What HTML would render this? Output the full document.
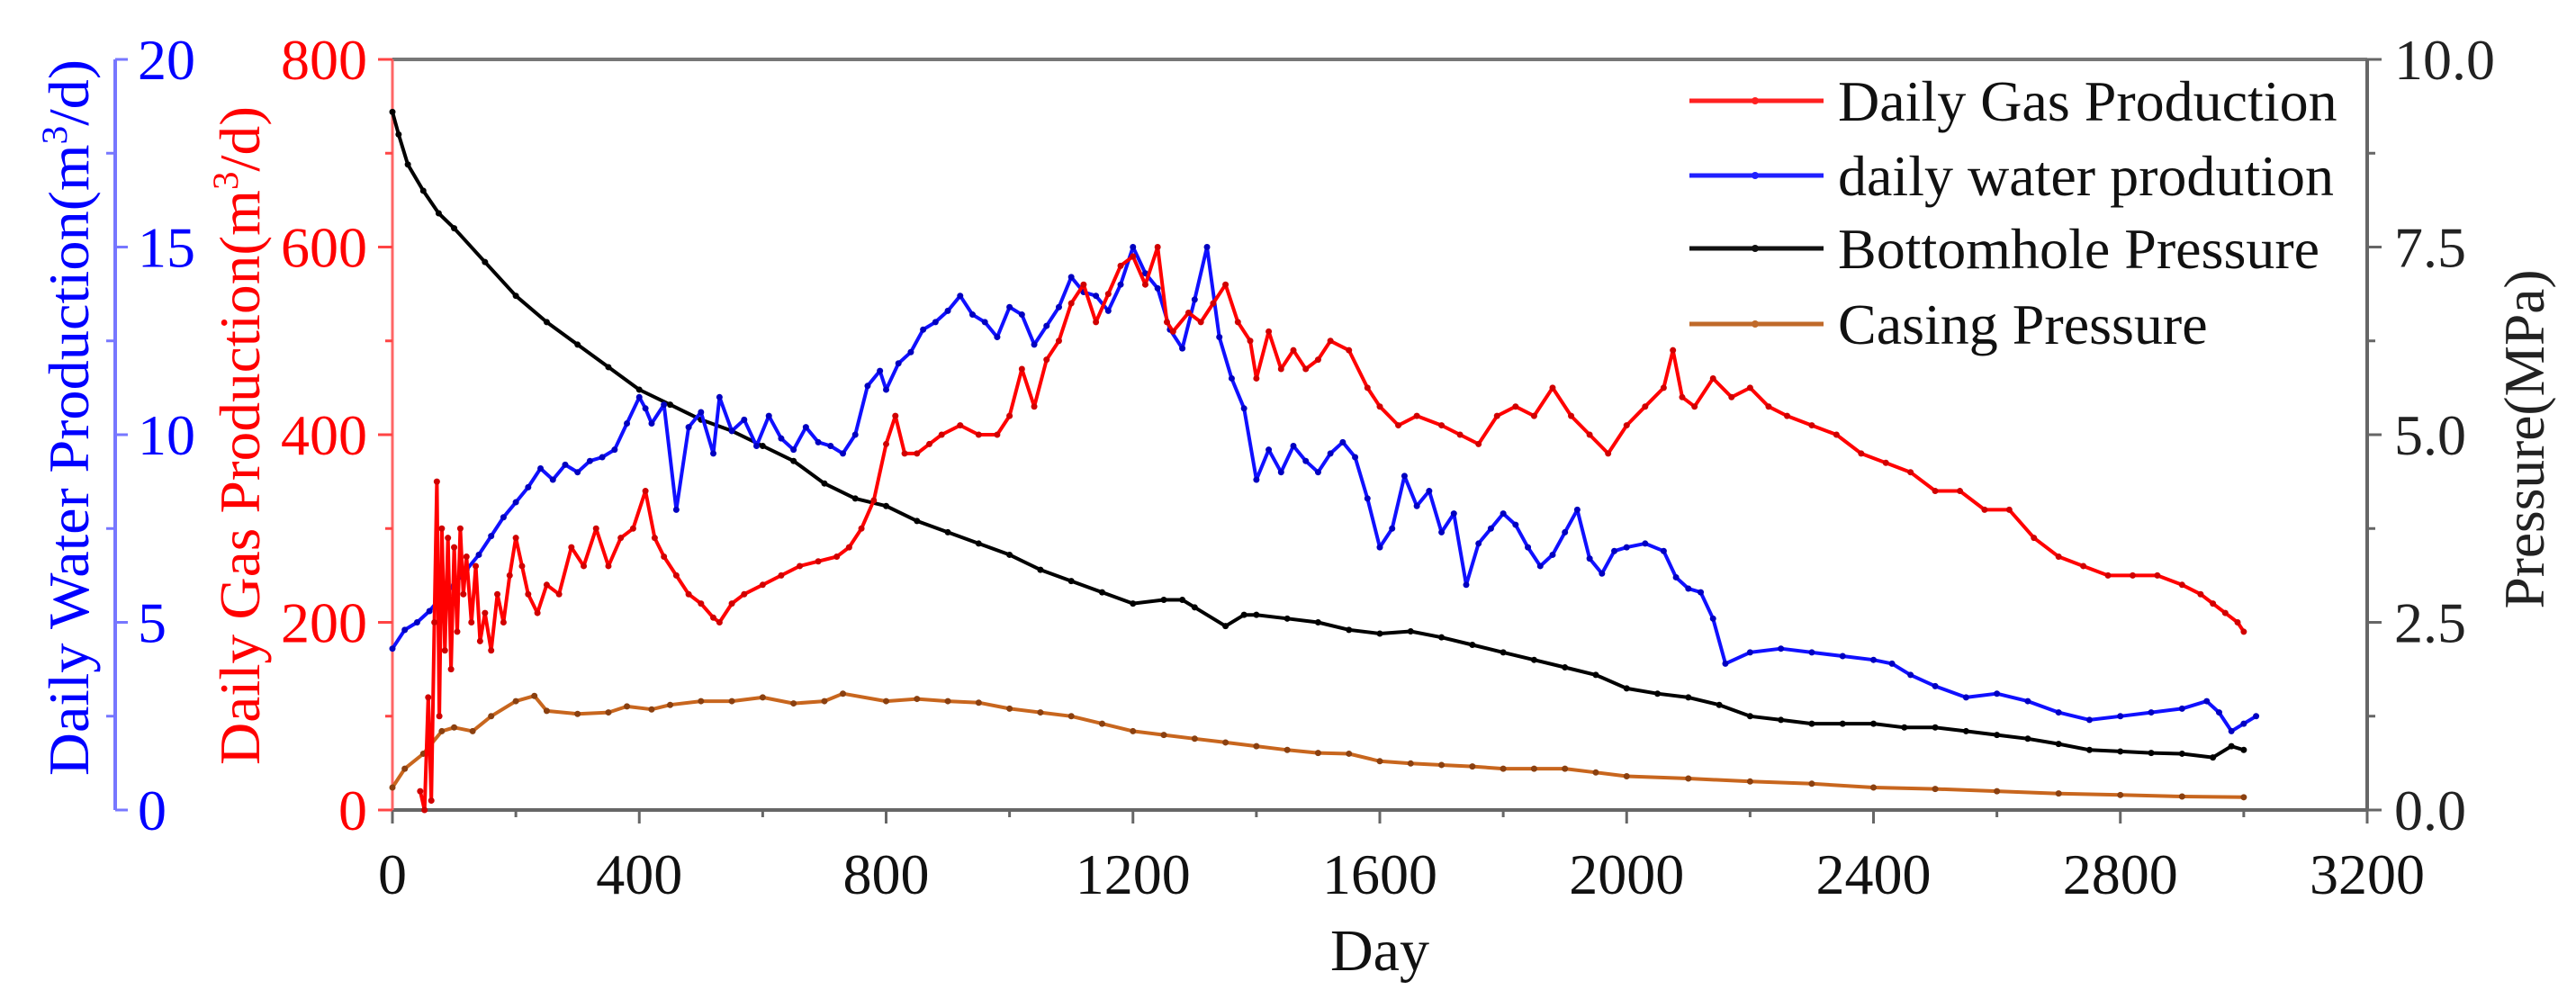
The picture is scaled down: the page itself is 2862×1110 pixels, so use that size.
<!DOCTYPE html>
<html><head><meta charset="utf-8"><style>
html,body{margin:0;padding:0;background:#fff;}
svg{display:block;font-family:"Liberation Serif","DejaVu Serif",serif;}
</style></head><body>
<svg id="chart" width="2862" height="1110" viewBox="0 0 2862 1110" xmlns="http://www.w3.org/2000/svg">
<g id="axes"></g>
<g id="series"></g>
<g id="legend"></g>
</svg>
<script>
const xTicks = [0,400,800,1200,1600,2000,2400,2800,3200];
const gasTicks = [0,200,400,600,800];
const waterTicks = [0,5,10,15,20];
const presTicks = ["0.0","2.5","5.0","7.5","10.0"];

const gasDays = [45,52,58,63,68,72,76,80,85,90,95,100,105,110,115,120,128,135,142,150,160,170,180,190,200,210,220,235,250,270,290,310,330,350,370,390,410,425,440,460,480,500,520,530,550,570,600,630,660,690,720,740,760,780,800,815,830,850,870,890,920,950,980,1000,1020,1040,1060,1080,1100,1120,1140,1160,1180,1200,1220,1240,1255,1265,1290,1310,1330,1350,1370,1390,1400,1420,1440,1460,1480,1500,1520,1550,1580,1600,1630,1660,1700,1730,1760,1790,1820,1850,1880,1910,1940,1970,2000,2030,2060,2075,2090,2110,2140,2170,2200,2230,2260,2300,2340,2380,2420,2460,2500,2540,2580,2620,2660,2700,2740,2780,2820,2860,2900,2930,2950,2970,2990,3000];
const gasVals = [20,0,120,10,200,350,100,300,170,290,150,280,190,300,230,270,200,260,180,210,170,230,200,250,290,260,230,210,240,230,280,260,300,260,290,300,340,290,270,250,230,220,205,200,220,230,240,250,260,265,270,280,300,330,390,420,380,380,390,400,410,400,400,420,470,430,480,500,540,560,520,550,580,590,560,600,520,510,530,520,540,560,520,500,460,510,470,490,470,480,500,490,450,430,410,420,410,400,390,420,430,420,450,420,400,380,410,430,450,490,440,430,460,440,450,430,420,410,400,380,370,360,340,340,320,320,290,270,260,250,250,250,240,230,220,210,200,190];

const waterDays = [0,20,40,60,80,100,120,140,160,180,200,220,240,260,280,300,320,340,360,380,400,410,420,440,460,480,500,520,530,550,570,590,610,630,650,670,690,710,730,750,770,790,800,820,840,860,880,900,920,940,960,980,1000,1020,1040,1060,1080,1100,1120,1140,1160,1180,1200,1220,1240,1260,1280,1300,1320,1340,1360,1380,1400,1420,1440,1460,1480,1500,1520,1540,1560,1580,1600,1620,1640,1660,1680,1700,1720,1740,1760,1780,1800,1820,1840,1860,1880,1900,1920,1940,1960,1980,2000,2030,2060,2080,2100,2120,2140,2160,2200,2250,2300,2350,2400,2430,2460,2500,2550,2600,2650,2700,2750,2800,2850,2900,2940,2960,2980,3000,3020];
const waterVals = [4.3,4.8,5.0,5.3,5.7,6.0,6.4,6.8,7.3,7.8,8.2,8.6,9.1,8.8,9.2,9.0,9.3,9.4,9.6,10.3,11.0,10.7,10.3,10.8,8.0,10.2,10.6,9.5,11.0,10.1,10.4,9.7,10.5,9.9,9.6,10.2,9.8,9.7,9.5,10.0,11.3,11.7,11.2,11.9,12.2,12.8,13.0,13.3,13.7,13.2,13.0,12.6,13.4,13.2,12.4,12.9,13.4,14.2,13.8,13.7,13.3,14.0,15.0,14.3,13.9,12.8,12.3,13.6,15.0,12.6,11.5,10.7,8.8,9.6,9.0,9.7,9.3,9.0,9.5,9.8,9.4,8.3,7.0,7.5,8.9,8.1,8.5,7.4,7.9,6.0,7.1,7.5,7.9,7.6,7.0,6.5,6.8,7.4,8.0,6.7,6.3,6.9,7.0,7.1,6.9,6.2,5.9,5.8,5.1,3.9,4.2,4.3,4.2,4.1,4.0,3.9,3.6,3.3,3.0,3.1,2.9,2.6,2.4,2.5,2.6,2.7,2.9,2.6,2.1,2.3,2.5,2.6];

const bhpDays = [0,10,25,50,75,100,150,200,250,300,350,400,450,500,550,600,650,700,750,800,850,900,950,1000,1050,1100,1150,1200,1250,1280,1300,1350,1380,1400,1450,1500,1550,1600,1650,1700,1750,1800,1850,1900,1950,2000,2050,2100,2150,2200,2250,2300,2350,2400,2450,2500,2550,2600,2650,2700,2750,2800,2850,2900,2950,2980,3000];
const bhpVals = [9.3,9.0,8.6,8.25,7.95,7.75,7.3,6.85,6.5,6.2,5.9,5.6,5.4,5.2,5.05,4.85,4.65,4.35,4.15,4.05,3.85,3.7,3.55,3.4,3.2,3.05,2.9,2.75,2.8,2.8,2.7,2.45,2.6,2.6,2.55,2.5,2.4,2.35,2.38,2.3,2.2,2.1,2.0,1.9,1.8,1.62,1.55,1.5,1.4,1.25,1.2,1.15,1.15,1.15,1.1,1.1,1.05,1.0,0.95,0.88,0.8,0.78,0.76,0.75,0.7,0.85,0.8];

const casDays = [0,20,50,80,100,130,160,200,230,250,300,350,380,420,450,500,550,600,650,700,730,800,850,900,950,1000,1050,1100,1150,1200,1250,1300,1350,1400,1450,1500,1550,1600,1650,1700,1750,1800,1850,1900,1950,2000,2100,2200,2300,2400,2500,2600,2700,2800,2900,3000];
const casVals = [0.3,0.55,0.75,1.05,1.1,1.05,1.25,1.45,1.52,1.32,1.28,1.3,1.38,1.34,1.4,1.45,1.45,1.5,1.42,1.45,1.55,1.45,1.48,1.45,1.43,1.35,1.3,1.25,1.15,1.05,1.0,0.95,0.9,0.85,0.8,0.76,0.75,0.65,0.62,0.6,0.58,0.55,0.55,0.55,0.5,0.45,0.42,0.38,0.35,0.3,0.28,0.25,0.22,0.2,0.18,0.17];

const L=436,R=2630,T=66,B=900;
const xs = d => L + d/3200*(R-L);
const yGas = v => B - v/800*(B-T);
const yWat = v => B - v/20*(B-T);
const yPres = v => B - v/10*(B-T);
const NS="http://www.w3.org/2000/svg";
function mk(tag,parent){const e=document.createElementNS(NS,tag);parent.appendChild(e);return e;}
const axes=document.getElementById('axes'), ser=document.getElementById('series'), leg=document.getElementById('legend');
function line(p,x1,y1,x2,y2,c,w){const e=mk('line',p);e.setAttribute('x1',x1);e.setAttribute('y1',y1);e.setAttribute('x2',x2);e.setAttribute('y2',y2);e.setAttribute('stroke',c);e.setAttribute('stroke-width',w);return e;}
function text(p,x,y,s,c,fs,anchor){const e=mk('text',p);e.setAttribute('x',x);e.setAttribute('y',y);e.setAttribute('fill',c);e.setAttribute('font-size',fs);e.setAttribute('text-anchor',anchor||'start');e.textContent=s;return e;}

// frame
let e;
e=line(axes,L,T,R,T,'#777',4);


e=line(axes,L,B,R,B,'#666',4);


e=line(axes,R,T,R,B,'#666',4);


e=line(axes,L,T,L,B,'#f66',3);


e=line(axes,128,T,128,B,'#77f',4);



// x ticks
xTicks.forEach((d,i)=>{
  const x=xs(d);
  line(axes,x,B,x,B+15,'#666',3);
  if(i<xTicks.length-1) line(axes,xs(d+200),B,xs(d+200),B+8,'#666',3);
  const t=text(axes,x,993,String(d),'#111',64,'middle');
  
  
});
e=text(axes,1533,1078,'Day','#111',66,'middle');



// gas axis
gasTicks.forEach((v,i)=>{
  const y=yGas(v);
  line(axes,L-16,y,L,y,'#f44',3);
  if(i<gasTicks.length-1) line(axes,L-8,yGas(v+100),L,yGas(v+100),'#f44',3);
  const t=text(axes,408,y+22,String(v),'#f00',64,'end');
  
  
});
e=mk('text',axes);


e.setAttribute('transform','translate(288,484) rotate(-90)');
e.setAttribute('fill','#f00');e.setAttribute('font-size','64');e.setAttribute('text-anchor','middle');
e.setAttribute('textLength','732');e.setAttribute('lengthAdjust','spacingAndGlyphs');
e.innerHTML='Daily Gas Production(m<tspan dy="-24" font-size="40">3</tspan><tspan dy="24">/d)</tspan>';

// water axis
waterTicks.forEach((v,i)=>{
  const y=yWat(v);
  line(axes,128,y,142,y,'#77f',3);
  if(i<waterTicks.length-1) line(axes,118,yWat(v+2.5),128,yWat(v+2.5),'#77f',3);
  const t=text(axes,153,y+22,String(v),'#00f',64,'start');
  
  
});
e=mk('text',axes);


e.setAttribute('transform','translate(98,464) rotate(-90)');
e.setAttribute('fill','#00f');e.setAttribute('font-size','64');e.setAttribute('text-anchor','middle');
e.setAttribute('textLength','796');e.setAttribute('lengthAdjust','spacingAndGlyphs');
e.innerHTML='Daily Water Production(m<tspan dy="-24" font-size="40">3</tspan><tspan dy="24">/d)</tspan>';

// pressure axis
presTicks.forEach((s,i)=>{
  const v=parseFloat(s), y=yPres(v);
  line(axes,R,y,R+16,y,'#666',3);
  if(i<presTicks.length-1) line(axes,R,yPres(v+1.25),R+9,yPres(v+1.25),'#666',3);
  const t=text(axes,2660,y+22,s,'#222',64,'start');
  
  
});
e=mk('text',axes);


e.setAttribute('transform','translate(2826,488) rotate(-90)');
e.setAttribute('fill','#222');e.setAttribute('font-size','64');e.setAttribute('text-anchor','middle');
e.setAttribute('textLength','377');e.setAttribute('lengthAdjust','spacingAndGlyphs');
e.textContent='Pressure(MPa)';

// series
function drawSeries(days,vals,yf,color,dot,name){
  const g=mk('g',ser);
  
  
  const pts=days.map((d,i)=>xs(d).toFixed(1)+','+yf(vals[i]).toFixed(1)).join(' ');
  const p=mk('polyline',g);
  
  
  p.setAttribute('points',pts);p.setAttribute('fill','none');p.setAttribute('stroke',color);p.setAttribute('stroke-width','4');p.setAttribute('stroke-linejoin','round');
  days.forEach((d,i)=>{
    const c=mk('circle',g);
    
    
    c.setAttribute('cx',xs(d));c.setAttribute('cy',yf(vals[i]));c.setAttribute('r','3.5');c.setAttribute('fill',dot);
  });
}
drawSeries(casDays,casVals,yPres,'#c8661e','#8a4010','casing-pressure-series');
drawSeries(bhpDays,bhpVals,yPres,'#000','#000','bottomhole-pressure-series');
drawSeries(waterDays,waterVals,yWat,'#1010ff','#0000c0','water-production-series');
drawSeries(gasDays,gasVals,yGas,'#ff0000','#d00000','gas-production-series');

// legend
const legNames=['Daily Gas Production','daily water prodution','Bottomhole Pressure','Casing Pressure'];
const legColors=['#ff2020','#2020ff','#111','#c06a2a'];
const legY=[112,195,276,360];
legNames.forEach((n,i)=>{
  const g=mk('g',leg);
  
  
  line(g,1877,legY[i],2026,legY[i],legColors[i],5);
  const c=mk('circle',g);c.setAttribute('cx',1950);c.setAttribute('cy',legY[i]);c.setAttribute('r',4);c.setAttribute('fill',legColors[i]);
  const t=text(g,2042,legY[i]+22,n,'#111',64,'start');
  
  
});
</script>
</body></html>
